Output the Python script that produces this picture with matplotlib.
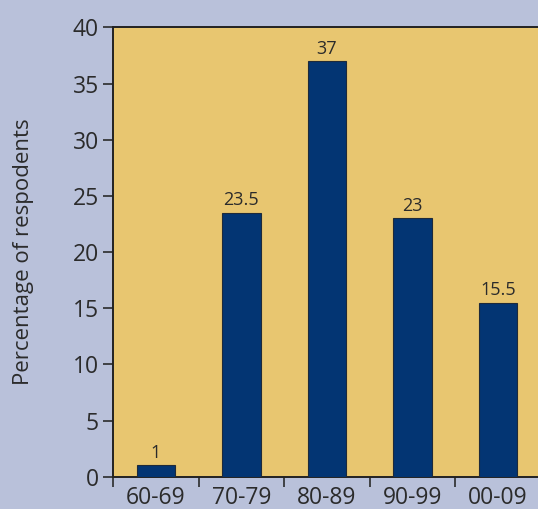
import matplotlib
matplotlib.use("Agg")
import matplotlib.pyplot as plt
import numpy as np

decades = ["60-69", "70-79", "80-89", "90-99", "00-09"]
percent = [1, 23.5, 37, 23, 15.5]
value_labels = ["1", "23.5", "37", "23", "15.5"]
y_ticks = [0, 5, 10, 15, 20, 25, 30, 35, 40]

plt.rcParams["font.family"] = ["Open Sans", "DejaVu Sans"]

fig_bg = "#b9c1da"
ax_bg = "#e8c670"
bar_col = "#033573"
ink = "#2b2b2b"

fig = plt.figure(figsize=(5.38, 5.09), dpi=100, facecolor=fig_bg)
ax = fig.add_axes([0.210, 0.0635, 0.795, 0.8825])
ax.set_facecolor(ax_bg)

x = np.arange(len(decades))
bars = ax.bar(x, percent, width=0.45, color=bar_col, edgecolor="#1e2a3a", linewidth=0.8, zorder=3)

for xi, v, lab in zip(x, percent, value_labels):
    ax.annotate(lab, (xi, v), xytext=(0, 2.5), textcoords="offset points",
                ha="center", va="bottom", fontsize=13, color=ink)

ax.set_xlim(-0.5, len(decades) - 0.5)
ax.set_ylim(0, 40)
ax.set_yticks(y_ticks)
ax.set_xticks(x)
ax.set_xticklabels(decades)
ax.set_xticks(np.arange(-0.5, len(decades), 1.0), minor=True)

ax.tick_params(axis="y", direction="out", length=7, width=1.2, colors=ink, labelsize=16.5, pad=3)
ax.tick_params(axis="x", which="major", length=0, labelsize=16.5, colors=ink, pad=7)
ax.tick_params(axis="x", which="minor", direction="out", length=7, width=1.2, color=ink)

for side in ["left", "top", "bottom"]:
    ax.spines[side].set_color("#222222")
    ax.spines[side].set_linewidth(1.4)
ax.spines["right"].set_visible(False)

ax.set_ylabel("Percentage of respodents", fontsize=16, color=ink)
ax.yaxis.set_label_coords(-0.185, 0.5)

fig.savefig("out.png", dpi=100, facecolor=fig_bg)
